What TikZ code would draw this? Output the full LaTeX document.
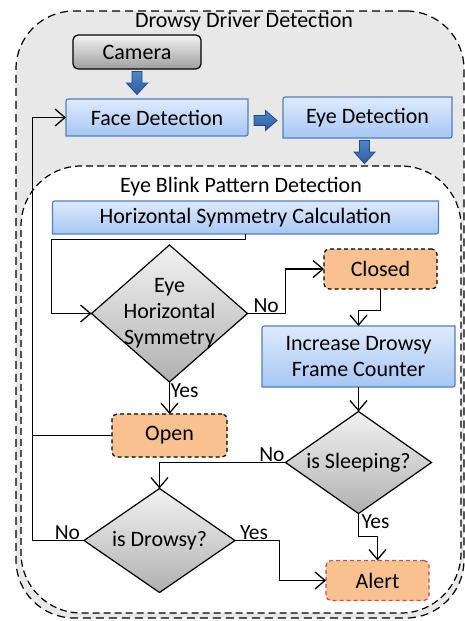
\documentclass[tikz,border=0pt]{standalone}
\usepackage{fontspec}
\setmainfont{Carlito}
\usetikzlibrary{arrows.meta,shapes.geometric,calc}
\pgfdeclarelayer{container}
\pgfdeclarelayer{boxes}
\pgfsetlayers{container,boxes,main}
\definecolor{bgray}{HTML}{E8E8E8}
\definecolor{btop}{HTML}{DEEAFB}
\definecolor{bbot}{HTML}{A7C6F4}
\definecolor{bline}{HTML}{4F81BD}
\definecolor{dtop}{HTML}{F2F2F2}
\definecolor{dbot}{HTML}{B0B0B0}
\definecolor{orfill}{HTML}{F9C18F}
\definecolor{alred}{HTML}{C0504D}
\definecolor{arrtop}{HTML}{4F86CC}
\definecolor{arrbot}{HTML}{2E5E9E}
\definecolor{arrline}{HTML}{1F4A85}
\tikzset{
  every node/.style={outer sep=0pt},
  txt/.style={font=\fontsize{22}{26}\selectfont, align=center, inner sep=0pt},
  lbl/.style={font=\fontsize{21.5}{24}\selectfont, inner sep=1pt},
  conn/.style={line width=1.3pt, -{Straight Barb[length=10pt,width=17pt,line width=1.3pt]}},
  plainline/.style={line width=1.3pt},
  bluebox/.style={draw=bline, line width=1.2pt, top color=btop, bottom color=bbot},
  graybox/.style={txt, draw=black, line width=1.2pt, rounded corners=5pt, top color=dtop, bottom color=dbot!90!black},
  orangebox/.style={txt, draw=black, line width=1.2pt, dash pattern=on 4pt off 3pt, rounded corners=5pt, fill=orfill},
  alertbox/.style={txt, draw=alred, line width=1.2pt, dash pattern=on 4pt off 3pt, rounded corners=5pt, fill=orfill},
  dmd/.style={txt, diamond, draw=black, line width=1.2pt, top color=dtop, bottom color=dbot, inner sep=-8pt},
  blockarr/.style={draw=arrline, line width=0.8pt, top color=arrtop, bottom color=arrbot, line join=miter},
  outerbox/.style={draw=black, line width=1.2pt, dash pattern=on 8pt off 5pt, rounded corners=58pt, fill=bgray},
  innerbox/.style={draw=black, line width=1.2pt, dash pattern=on 7pt off 4pt, rounded corners=60pt, fill=white},
}
\newcommand\diagshape[2]{%
  \begin{pgfonlayer}{boxes}
  \path[#2] ([yshift=-5pt]#1.north west) .. controls (#1.north west) .. ([xshift=5pt]#1.north west)
     -- (#1.north east) -- ([yshift=5pt]#1.south east) .. controls (#1.south east) .. ([xshift=-5pt]#1.south east)
     -- (#1.south west) -- cycle;
  \end{pgfonlayer}}
% block arrow pointing down, centred on a named coordinate
\newcommand\downblock[1]{%
  \path[blockarr] ([shift={(-5,-11.5)}]#1) -- ([shift={(5,-11.5)}]#1) -- ([shift={(5,0)}]#1)
    -- ([shift={(10.5,0)}]#1) -- ([shift={(0,11.5)}]#1) -- ([shift={(-10.5,0)}]#1)
    -- ([shift={(-5,0)}]#1) -- cycle;}
% block arrow pointing right
\newcommand\rightblock[1]{%
  \path[blockarr] ([shift={(-11.5,-5)}]#1) -- ([shift={(0,-5)}]#1) -- ([shift={(0,-10)}]#1)
    -- ([shift={(11.5,0)}]#1) -- ([shift={(0,10)}]#1) -- ([shift={(0,5)}]#1)
    -- ([shift={(-11.5,5)}]#1) -- cycle;}
\begin{document}
\begin{tikzpicture}[x=1pt,y=-1pt]
\useasboundingbox (0,0) rectangle (465,621);
\begin{pgfonlayer}{container}
\node[outerbox, minimum width=448pt, minimum height=607pt] (outer) at (240,314.5) {};
\node[innerbox, minimum width=440pt, minimum height=447pt] (inner) at (241,389.5) {};
\end{pgfonlayer}
\node[txt] (title1) at (244,22) {Drowsy Driver Detection};
\node[txt] (title2) at (241,187) {Eye Blink Pattern Detection};

\node[graybox, minimum width=128pt, minimum height=34pt] (cam) at (137,52) {Camera};
\node[txt, minimum width=182pt, minimum height=37pt] (face) at (157,117.5) {Face Detection};
\diagshape{face}{bluebox}
\node[txt, minimum width=169pt, minimum height=41pt] (eye) at (367.5,117.5) {Eye Detection};
\diagshape{eye}{bluebox}
\node[txt, minimum width=386pt, minimum height=33pt] (hsc) at (245.5,217.5) {Horizontal Symmetry Calculation};
\diagshape{hsc}{bluebox}
\node[dmd, aspect=1.14, minimum width=156pt, minimum height=137pt] (sym) at (169.5,313.5) {Eye\\Horizontal\\Symmetry};
\node[orangebox, minimum width=113pt, minimum height=40pt] (closed) at (380.5,269) {Closed};
\node[txt, minimum width=193pt, minimum height=61pt] (incr) at (358.5,356.5) {Increase Drowsy\\Frame Counter};
\diagshape{incr}{bluebox}
\node[orangebox, minimum width=115pt, minimum height=43pt] (open) at (169.5,435.5) {Open};
\node[dmd, aspect=1.43, minimum width=146pt, minimum height=102pt] (sleep) at (358.5,462.5) {is Sleeping?};
\node[dmd, aspect=1.45, minimum width=151pt, minimum height=104pt] (drowsy) at (159.5,540.5) {is Drowsy?};
\node[alertbox, minimum width=103pt, minimum height=40pt] (alert) at (377.5,580.5) {Alert};

% block arrows
\coordinate (ba1) at ([yshift=1pt]$(cam.south)!0.5!(cam.south|-face.north)$);
\downblock{ba1}
\coordinate (ba2) at ([yshift=-3pt]$(face.east)!0.5!(eye.west)$);
\rightblock{ba2}
\coordinate (ba3) at ([xshift=-3pt]$(eye.south)!0.5!(eye.south|-inner.north)$);
\downblock{ba3}

% connectors
\coordinate (back) at ([xshift=-51.5pt]drowsy.west);
\draw[conn] (hsc.south) -- ++(0,5.5) -| ([xshift=-40pt]sym.west) -- (sym.west);
\draw[conn] (sym.east) node[lbl, anchor=south west, xshift=5pt] (no1) {No} -- ++(38,0) |- (closed.west);
\draw[conn] (closed.south) -- ++(0,21.5) -| (incr.north);
\draw[conn] (incr.south) -- (incr.south|-sleep.north);
\draw[conn] (sym.south) node[lbl, anchor=north west, yshift=-1pt] (yes1) {Yes} -- (open.north);
\draw[conn] (sleep.west) node[lbl, anchor=south east] (no2) {No} -| (drowsy.north);
\draw[conn] (sleep.south) node[lbl, anchor=north west, xshift=2pt] (yes2) {Yes} -- ++(0,23) -| (alert.north);
\draw[conn] (drowsy.east) node[lbl, anchor=south west, xshift=4pt] (yes3) {Yes} -- ++(44.5,0) |- (alert.west);
\draw[conn] (drowsy.west) node[lbl, anchor=south east, xshift=-3pt] (no3) {No} -- (back) |- (face.west);
\draw[plainline] (open.west) -- (open.west-|back);
\end{tikzpicture}
\end{document}
